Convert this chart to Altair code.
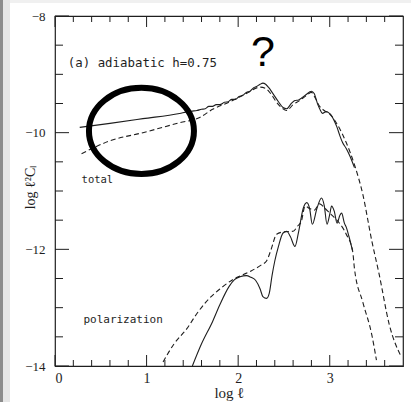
import altair as alt
import pandas as pd

# ---- data ----
# total, solid
tot_sx = [0.27, 0.60, 0.96, 1.36, 1.45, 1.50, 1.55, 1.60, 1.64, 1.68, 1.72, 1.76, 1.80, 1.85,
          1.89, 1.93, 1.97, 2.01, 2.05, 2.09, 2.13, 2.17, 2.20, 2.24, 2.27, 2.30, 2.33, 2.38,
          2.44, 2.49, 2.53, 2.58, 2.62, 2.66, 2.69, 2.74, 2.80, 2.83, 2.87, 2.89, 2.92, 2.96,
          2.99, 3.02, 3.05, 3.08, 3.11, 3.14, 3.18, 3.22, 3.27]
tot_sy = [-9.91, -9.84, -9.76, -9.67, -9.64, -9.63, -9.62, -9.60, -9.59, -9.55, -9.55, -9.52,
          -9.52, -9.48, -9.47, -9.43, -9.43, -9.38, -9.36, -9.31, -9.29, -9.23, -9.21, -9.17,
          -9.15, -9.17, -9.22, -9.33, -9.47, -9.57, -9.59, -9.50, -9.45, -9.44, -9.41, -9.35,
          -9.29, -9.33, -9.52, -9.59, -9.67, -9.64, -9.66, -9.71, -9.80, -9.91, -10.05, -10.17,
          -10.27, -10.40, -10.60]
# total, dashed
tot_dx = [0.29, 0.60, 0.96, 1.36, 1.58, 1.72, 1.91, 2.09, 2.24, 2.30, 2.36, 2.42, 2.48, 2.53,
          2.60, 2.67, 2.74, 2.80, 2.84, 2.89, 2.94, 3.00, 3.09, 3.18, 3.27, 3.36, 3.46, 3.54,
          3.65, 3.78]
tot_dy = [-10.36, -10.14, -10.00, -9.83, -9.74, -9.60, -9.47, -9.33, -9.22, -9.24, -9.34,
          -9.48, -9.58, -9.62, -9.52, -9.45, -9.37, -9.31, -9.40, -9.55, -9.62, -9.68, -9.88,
          -10.17, -10.55, -11.05, -11.86, -12.43, -13.29, -13.84]
# polarization, solid
pol_sx = [1.50, 1.60, 1.72, 1.80, 1.90, 1.96, 2.02, 2.09, 2.14, 2.19, 2.24, 2.27, 2.31, 2.34,
          2.37, 2.40, 2.44, 2.49, 2.53, 2.57, 2.62, 2.66, 2.71, 2.75, 2.78, 2.81, 2.86, 2.91,
          2.94, 2.97, 3.00, 3.02, 3.05, 3.08, 3.11, 3.13, 3.16, 3.18, 3.21, 3.25]
pol_sy = [-14.00, -13.62, -13.24, -12.95, -12.64, -12.52, -12.47, -12.45, -12.48, -12.53,
          -12.68, -12.81, -12.84, -12.75, -12.45, -12.20, -11.95, -11.72, -11.69, -11.78,
          -11.95, -11.70, -11.30, -11.20, -11.30, -11.57, -11.30, -11.12, -11.25, -11.57,
          -11.40, -11.26, -11.35, -11.55, -11.42, -11.38, -11.55, -11.62, -11.78, -12.03]
# polarization, dashed
pol_dx = [1.18, 1.30, 1.44, 1.55, 1.65, 1.80, 1.94, 2.13, 2.25, 2.31, 2.36, 2.42, 2.50, 2.60,
          2.65, 2.69, 2.73, 2.78, 2.83, 2.89, 2.95, 3.00, 3.09, 3.18, 3.25, 3.27, 3.36, 3.46,
          3.51]
pol_dy = [-13.93, -13.62, -13.36, -13.10, -12.90, -12.68, -12.52, -12.38, -12.27, -12.20,
          -12.00, -11.74, -11.70, -11.69, -11.60, -11.52, -11.26, -11.30, -11.33, -11.22,
          -11.30, -11.38, -11.52, -11.74, -12.03, -12.33, -12.90, -13.47, -13.90]

x_major = [0, 1, 2, 3]
x_minor = [0.2, 0.4, 0.6, 0.8, 1.2, 1.4, 1.6, 1.8, 2.2, 2.4, 2.6, 2.8, 3.2, 3.4, 3.6]
y_major = [-14, -12, -10, -8]
y_minor = [-13.5, -13, -12.5, -11.5, -11, -10.5, -9.5, -9, -8.5]

labels_text = ["(a) adiabatic h=0.75", "total", "polarization"]
labels_x = [0.14, 0.29, 0.31]
labels_y = [-8.87, -10.87, -13.27]
labels_size = [12.4, 10.5, 11]

qmark_text = ["?"]
qmark_x = [2.27]
qmark_y = [-8.86]

ring_x = [0.944]
ring_y = [-9.97]

# ---- chart ----
W, H = 348, 350
INK = "#1e1e1e"
XS = alt.Scale(domain=[0, 3.8], nice=False, zero=False)
YS = alt.Scale(domain=[-14, -8], nice=False, zero=False)


def frame(xs, ys):
    return pd.DataFrame({"x": xs, "y": ys})


x_axis = alt.Axis(values=x_major, ticks=False, domain=False, grid=False,
                  labelFont="Liberation Serif", labelFontSize=14, labelPadding=5,
                  labelColor=INK, title="log ℓ", titleFont="Liberation Serif",
                  titleFontSize=15, titleFontWeight="normal", titlePadding=0,
                  titleColor=INK)
y_axis = alt.Axis(values=y_major, ticks=False, domain=False, grid=False,
                  labelFont="Liberation Serif", labelFontSize=13, labelPadding=10,
                  labelColor=INK, labelExpr="'−' + format(-datum.value, 'd')",
                  title="log ℓ²Cₗ", titleFont="Liberation Serif", titleFontSize=14,
                  titleFontWeight="normal", titleColor=INK, titleAngle=270,
                  titleX=-25, titleY=171, titleAlign="center", titleBaseline="middle")


def X(field):
    return alt.X(field, scale=XS, axis=x_axis)


def Y(field):
    return alt.Y(field, scale=YS, axis=y_axis)


def line(xs, ys, dashed):
    kw = dict(color=INK, strokeWidth=1.1, interpolate="monotone")
    if dashed:
        kw["strokeDash"] = [5, 3]
    return alt.Chart(frame(xs, ys)).mark_line(**kw).encode(
        x=X("x:Q"), y=Y("y:Q"), order="x:Q")


def xticks(vals, length):
    d = pd.DataFrame({"v": vals})
    b = alt.Chart(d).mark_rule(color=INK, strokeWidth=1).encode(
        x=X("v:Q"), y=alt.value(H), y2=alt.value(H - length))
    t = alt.Chart(d).mark_rule(color=INK, strokeWidth=1).encode(
        x=X("v:Q"), y=alt.value(0), y2=alt.value(length))
    return [b, t]


def yticks(vals, length):
    d = pd.DataFrame({"v": vals})
    l = alt.Chart(d).mark_rule(color=INK, strokeWidth=1).encode(
        y=Y("v:Q"), x=alt.value(0), x2=alt.value(length))
    r = alt.Chart(d).mark_rule(color=INK, strokeWidth=1).encode(
        y=Y("v:Q"), x=alt.value(W), x2=alt.value(W - length))
    return [l, r]


ann = pd.DataFrame({"t": labels_text, "x": labels_x, "y": labels_y})
ann_layers = []
for i in range(len(labels_text)):
    ann_layers.append(
        alt.Chart(ann.iloc[[i]]).mark_text(
            align="left", baseline="alphabetic", font="DejaVu Sans Mono",
            fontSize=labels_size[i], color=INK).encode(
            x=X("x:Q"), y=Y("y:Q"), text="t:N")
    )

qmark = alt.Chart(pd.DataFrame({"t": qmark_text, "x": qmark_x, "y": qmark_y})).mark_text(
    align="center", baseline="alphabetic", font="Liberation Sans", fontSize=43,
    color="#000000").encode(x=X("x:Q"), y=Y("y:Q"), text="t:N")

ring = alt.Chart(pd.DataFrame({"x": ring_x, "y": ring_y})).mark_point(
    shape="M -1 0 A 1 0.82 0 1 1 1 0 A 1 0.82 0 1 1 -1 0 Z",
    size=105 * 105, filled=False, strokeWidth=6, color="#000000", opacity=1).encode(
    x=X("x:Q"), y=Y("y:Q"))

strip_df = pd.DataFrame({"a": [0]})
strip_dark = alt.Chart(strip_df).mark_rect(color="#8c8c8c").encode(
    x=alt.value(-55), x2=alt.value(-52), y=alt.value(-16), y2=alt.value(H + 36))
strip_light = alt.Chart(strip_df).mark_rect(color="#e6e6e6").encode(
    x=alt.value(-52), x2=alt.value(-45), y=alt.value(-16), y2=alt.value(H + 36))
strip_top = alt.Chart(strip_df).mark_rect(color="#f0f0f0").encode(
    x=alt.value(-45), x2=alt.value(W + 8), y=alt.value(-16), y2=alt.value(-13))

solid_total = line(tot_sx, tot_sy, False)

layers = [strip_dark, strip_light, strip_top, solid_total,
          line(tot_dx, tot_dy, True), line(pol_sx, pol_sy, False), line(pol_dx, pol_dy, True)]
layers += xticks(x_major, 11) + xticks(x_minor, 6) + yticks(y_major, 14) + yticks(y_minor, 8)
layers += ann_layers + [qmark, ring]

chart = alt.layer(*layers).properties(
    width=W, height=H,
    padding={"left": 55, "top": 16, "right": 8, "bottom": 36},
    autosize=alt.AutoSizeParams(type="none"),
    background="white",
).configure_view(stroke=INK, strokeWidth=1.2)

chart.save("out.html", embed_options={"renderer": "svg", "actions": False})
